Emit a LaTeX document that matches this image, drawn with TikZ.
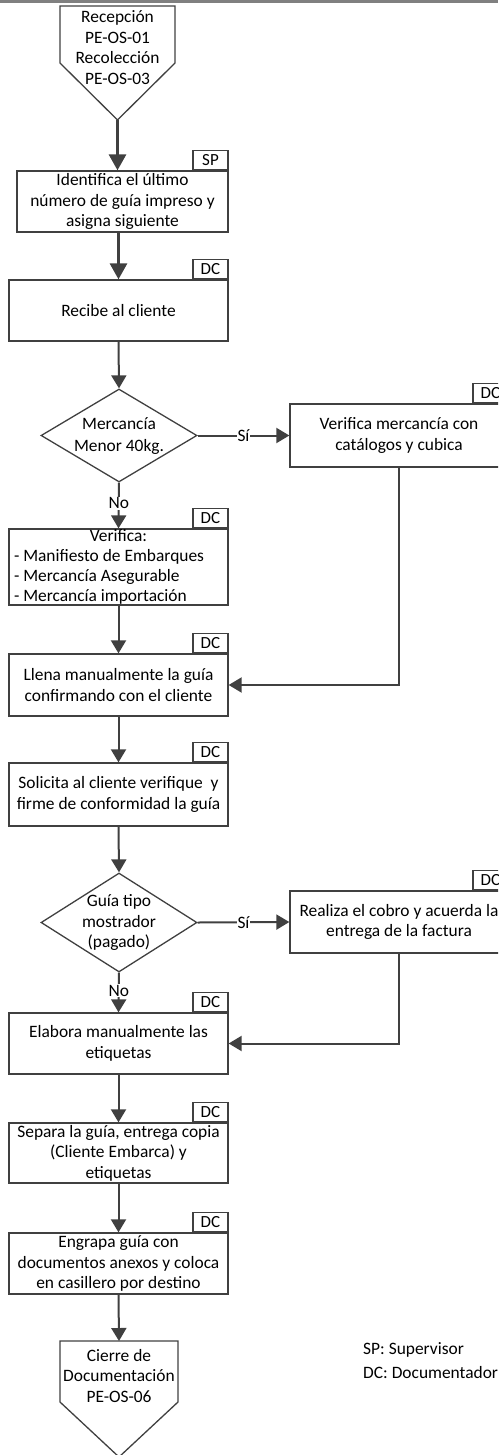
\documentclass[tikz,border=0pt]{standalone}
\usepackage{fontspec}
\setmainfont{Carlito}
\usetikzlibrary{arrows.meta,shapes.geometric}
\definecolor{ln}{HTML}{404040}
\definecolor{topgray}{HTML}{808080}
\newcommand\myfs{\fontsize{17.4}{20.5}\selectfont}
\newcommand\lline[1]{\makebox[209pt][l]{#1}}
\begin{document}
\begin{tikzpicture}[x=1pt,y=-1pt,
  box/.style={draw=ln, line width=1.3pt, minimum width=219pt, inner sep=0pt, align=center, font=\myfs},
  rbox/.style={box, minimum width=218pt},
  tag/.style={draw=ln, line width=1.3pt, fill=white, minimum width=35pt, minimum height=19pt, inner sep=0pt, font=\fontsize{17}{18}\selectfont, anchor=south east},
  dia/.style={draw=ln, line width=1.3pt, diamond, inner sep=0pt},
  txt/.style={align=center, font=\myfs, inner sep=0pt},
  shp/.style={draw=ln, line width=1.3pt, line join=miter},
  arr/.style={draw=ln, line width=2pt, -{Triangle[length=13pt,width=15pt]}},
  arrthick/.style={draw=ln, line width=3pt, -{Triangle[length=16pt,width=17pt]}},
  lbl/.style={fill=white, font=\myfs, inner sep=1pt}]
\clip (0,0) rectangle (498,1455);
\useasboundingbox (0,0) rectangle (498,1455);
% top gray rule
\draw[topgray, line width=2.5pt] (0,1.5) -- (498,1.5);

% start off-page connector
\draw[shp] (60,6) -- (175,6) -- (175,63) -- (117.5,120) -- (60,63) -- cycle;
\coordinate (starttip) at (117.5,120);
\node[txt] (start) at (117.5,47.5) {Recepción\\PE-OS-01\\Recolección\\PE-OS-03};

% boxes
\node[box, minimum width=211pt, minimum height=61pt] (b1) at (122.5,201.5) {Identifica el último\\número de guía impreso y\\asigna siguiente};
\node[tag] (t1) at (b1.north east) {SP};

\node[box, minimum height=61pt] (b2) at (118.5,310.5) {Recibe al cliente};
\node[tag] (t2) at (b2.north east) {DC};

\node[dia, minimum width=156pt, minimum height=93pt] (d1) at (119,435.5) {};
\node[txt, font=\fontsize{17.4}{22}\selectfont] (d1t) at (119,436) {Mercancía\\Menor 40kg.};

\node[rbox, minimum height=63pt] (r1) at (399,435.5) {Verifica mercancía con\\catálogos y cubica};
\node[tag] (tr1) at (r1.north east) {DC};

\node[box, minimum height=76pt, font=\fontsize{17.4}{20}\selectfont] (b3) at (118.5,567) {\makebox[209pt]{Verifica:}\\\lline{- Manifiesto de Embarques}\\\lline{- Mercancía Asegurable}\\\lline{- Mercancía importación}};
\node[tag] (t3) at (b3.north east) {DC};

\node[box, minimum height=62pt] (b4) at (118.5,685) {Llena manualmente la guía\\confirmando con el cliente};
\node[tag] (t4) at (b4.north east) {DC};

\node[box, minimum height=63pt] (b5) at (118.5,794.5) {Solicita al cliente verifique~ y\\firme de conformidad la guía};
\node[tag] (t5) at (b5.north east) {DC};

\node[dia, minimum width=156pt, minimum height=99pt] (d2) at (119,922.5) {};
\node[txt] (d2t) at (119,922.5) {Guía tipo\\mostrador\\(pagado)};

\node[rbox, minimum height=62pt] (r2) at (399,922) {Realiza el cobro y acuerda la\\entrega de la factura};
\node[tag] (tr2) at (r2.north east) {DC};

\node[box, minimum height=61pt] (b6) at (118.5,1043.5) {Elabora manualmente las\\etiquetas};
\node[tag] (t6) at (b6.north east) {DC};

\node[box, minimum height=60pt] (b7) at (118.5,1153) {Separa la guía, entrega copia\\(Cliente Embarca) y\\etiquetas};
\node[tag] (t7) at (b7.north east) {DC};

\node[box, minimum height=61pt] (b8) at (118.5,1263.5) {Engrapa guía con\\documentos anexos y coloca\\en casillero por destino};
\node[tag] (t8) at (b8.north east) {DC};

% end off-page connector
\draw[shp] (60,1341) -- (178,1341) -- (178,1402) -- (119,1457) -- (60,1402) -- cycle;
\coordinate (endtop) at (119,1341);
\node[txt] (endt) at (119,1376) {Cierre de\\Documentación\\PE-OS-06};

% legend
\node[anchor=west, font=\myfs, inner sep=0pt] (lg1) at (363,1350) {SP: Supervisor};
\node[anchor=west, font=\myfs, inner sep=0pt] (lg2) at (363,1373) {DC: Documentador};

% connectors
\draw[arrthick] (starttip) -- (starttip |- b1.north);
\draw[arrthick] (b2.north |- b1.south) -- (b2.north);
\draw[arr] (b2.south) -- (d1.north);
\draw[arr] (d1.east) -- node[lbl] {Sí} (r1.west);
\draw[arr] (d1.south) -- node[lbl, pos=0.45] {No} (b3.north);
\draw[arr] (b3.south) -- (b4.north);
\draw[arr] (r1.south) |- (b4.east);
\draw[arr] (b4.south) -- (b5.north);
\draw[arr] (b5.south) -- (d2.north);
\draw[arr] (d2.east) -- node[lbl] {Sí} (r2.west);
\draw[arr] (d2.south) -- node[lbl, pos=0.45] {No} (b6.north);
\draw[arr] (r2.south) |- (b6.east);
\draw[arr] (b6.south) -- (b7.north);
\draw[arr] (b7.south) -- (b8.north);
\draw[arr] (b8.south) -- (endtop);
\end{tikzpicture}
\end{document}
